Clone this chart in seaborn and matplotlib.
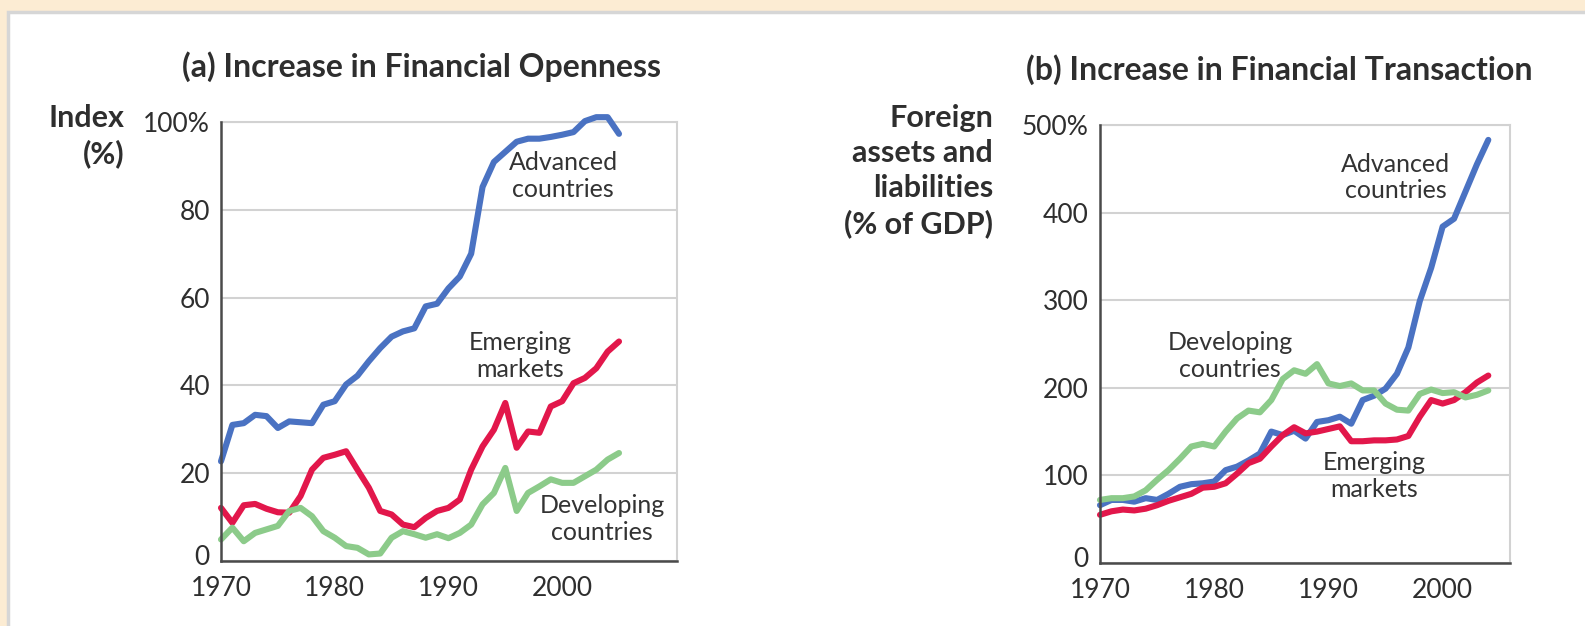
import numpy as np
import pandas as pd
import matplotlib.pyplot as plt
import matplotlib.transforms as mtransforms
import seaborn as sns
from matplotlib.patches import Rectangle

years_a = list(range(1970, 2006))
adv_a = [22.7, 31.0, 31.4, 33.3, 33.0, 30.3, 31.8, 31.6, 31.4, 35.6,
         36.4, 40.2, 42.2, 45.5, 48.5, 51.1, 52.3, 53.0, 58.0, 58.6,
         62.1, 64.8, 70.0, 85.2, 90.9, 93.2, 95.5, 96.2, 96.2, 96.6,
         97.1, 97.7, 100.2, 101.1, 101.1, 97.3]
emg_a = [12.1, 8.7, 12.7, 13.0, 11.9, 11.1, 11.0, 14.8, 20.8, 23.5,
         24.2, 25.0, 20.8, 16.7, 11.4, 10.6, 8.3, 7.7, 9.8, 11.4,
         12.1, 14.0, 20.8, 26.1, 29.9, 36.0, 25.8, 29.5, 29.2, 35.2,
         36.4, 40.5, 41.7, 43.9, 47.7, 50.0]
dev_a = [4.9, 7.6, 4.5, 6.4, 7.2, 8.0, 11.4, 12.1, 10.2, 6.8,
         5.3, 3.4, 3.0, 1.5, 1.7, 5.3, 6.8, 6.1, 5.3, 6.1,
         5.2, 6.4, 8.3, 12.9, 15.5, 21.2, 11.4, 15.5, 17.0, 18.6,
         17.8, 17.8, 19.3, 20.8, 23.1, 24.6]

years_b = list(range(1970, 2005))
adv_b = [66, 72, 72, 70, 74, 72, 79, 87, 90, 91,
         93, 106, 110, 117, 125, 150, 146, 151, 142, 161,
         163, 167, 159, 186, 191, 199, 216, 246, 299, 337,
         384, 393, 424, 455, 483]
emg_b = [55, 59, 61, 60, 62, 66, 71, 75, 79, 86,
         87, 91, 102, 114, 119, 133, 146, 155, 148, 150,
         153, 156, 139, 139, 140, 140, 141, 145, 167, 186,
         182, 186, 195, 206, 214]
dev_b = [72, 74, 74, 76, 83, 95, 106, 119, 133, 136,
         133, 150, 165, 174, 172, 186, 210, 220, 216, 227,
         205, 202, 205, 197, 197, 182, 175, 174, 193, 198,
         194, 195, 189, 192, 197]

groups = ["Advanced", "Emerging", "Developing"]
colors = {"Advanced": "#4a72c2", "Emerging": "#e2174b", "Developing": "#8ccb8a"}


def long_df(years, series):
    frames = []
    for g, vals in zip(groups, series):
        frames.append(pd.DataFrame({"year": years, "value": vals, "group": g}))
    return pd.concat(frames)


df_a = long_df(years_a, [adv_a, emg_a, dev_a])
df_b = long_df(years_b, [adv_b, emg_b, dev_b])

sns.set_style("white")
plt.rcParams["font.family"] = ["Lato", "DejaVu Sans"]
txt = "#2e2e2e"

fig = plt.figure(figsize=(15.85, 6.26), dpi=100)
fig.patch.set_facecolor("#fcecd3")
fig.patches.append(Rectangle((8 / 1585, -0.01), 1.02 - 8 / 1585, 1.01 - 12 / 626,
                             transform=fig.transFigure, facecolor="white",
                             edgecolor="#d6d6d6", linewidth=2.5, zorder=-5))

ax1 = fig.add_axes([221 / 1585, 1 - 561 / 626, 456 / 1585, 439 / 626])
ax2 = fig.add_axes([1100 / 1585, 1 - 563 / 626, 410 / 1585, 438 / 626])


def style(ax, df, ymax, step, xmax, pct):
    sns.lineplot(data=df, x="year", y="value", hue="group", palette=colors,
                 linewidth=4.4, legend=False, ax=ax, zorder=3)
    for ln in ax.lines:
        ln.set_clip_on(False)
        ln.set_solid_joinstyle("round")
        ln.set_solid_capstyle("round")
    ax.set_xlim(1970, xmax)
    ax.set_ylim(0, ymax)
    ax.set_xticks([1970, 1980, 1990, 2000])
    ticks = list(range(0, ymax + 1, step))
    ax.set_yticks(ticks)
    ax.set_yticklabels([pct if t == ymax else str(t) for t in ticks])
    ax.grid(axis="y", color="#d2d2d2", linewidth=1.5, zorder=0)
    ax.set_xlabel("")
    ax.set_ylabel("")
    for s in ["left", "bottom"]:
        ax.spines[s].set_color("#4a4a4a")
        ax.spines[s].set_linewidth(1.8)
        ax.spines[s].set_zorder(4)
    for s in ["top", "right"]:
        ax.spines[s].set_color("#d2d2d2")
        ax.spines[s].set_linewidth(1.5)
    ax.tick_params(axis="x", direction="in", length=9, width=1.5, color="#4a4a4a",
                   labelsize=19, labelcolor=txt, pad=11)
    ax.tick_params(axis="y", length=0, labelsize=19, labelcolor=txt, pad=8)
    ax.set_facecolor("white")
    # nudge the "0" label up so it clears the "1970" label
    lab0 = ax.get_yticklabels()[0]
    lab0.set_transform(lab0.get_transform() +
                       mtransforms.ScaledTranslation(0, 6 / 100, fig.dpi_scale_trans))


style(ax1, df_a, 100, 20, 2010.1, "100%")
style(ax2, df_b, 500, 100, 2005.9, "500%")

ann = dict(fontsize=18, color="#333333", ha="center", va="center", linespacing=1.2)
ax1.text(2000.1, 87.7, "Advanced\ncountries", **ann)
ax1.text(1996.3, 46.7, "Emerging\nmarkets", **ann)
ax1.text(2003.5, 9.6, "Developing\ncountries", **ann)
ax2.text(1995.9, 440, "Advanced\ncountries", **ann)
ax2.text(1981.4, 236, "Developing\ncountries", **ann)
ax2.text(1994.0, 99, "Emerging\nmarkets", **ann)

fig.text(421 / 1585, 1 - 67 / 626, "(a) Increase in Financial Openness",
         fontsize=23, fontweight="bold", color=txt, ha="center", va="center")
fig.text(1279 / 1585, 1 - 70 / 626, "(b) Increase in Financial Transaction",
         fontsize=23, fontweight="bold", color=txt, ha="center", va="center")
fig.text(124 / 1585, 1 - 104 / 626, "Index\n(%)", fontsize=22, fontweight="bold",
         color=txt, ha="right", va="top", multialignment="right", linespacing=1.3)
fig.text(993 / 1585, 1 - 104 / 626, "Foreign\nassets and\nliabilities\n(% of GDP)",
         fontsize=22, fontweight="bold", color=txt, ha="right", va="top",
         multialignment="right", linespacing=1.3)

fig.savefig("out.png", dpi=100, facecolor=fig.get_facecolor())
